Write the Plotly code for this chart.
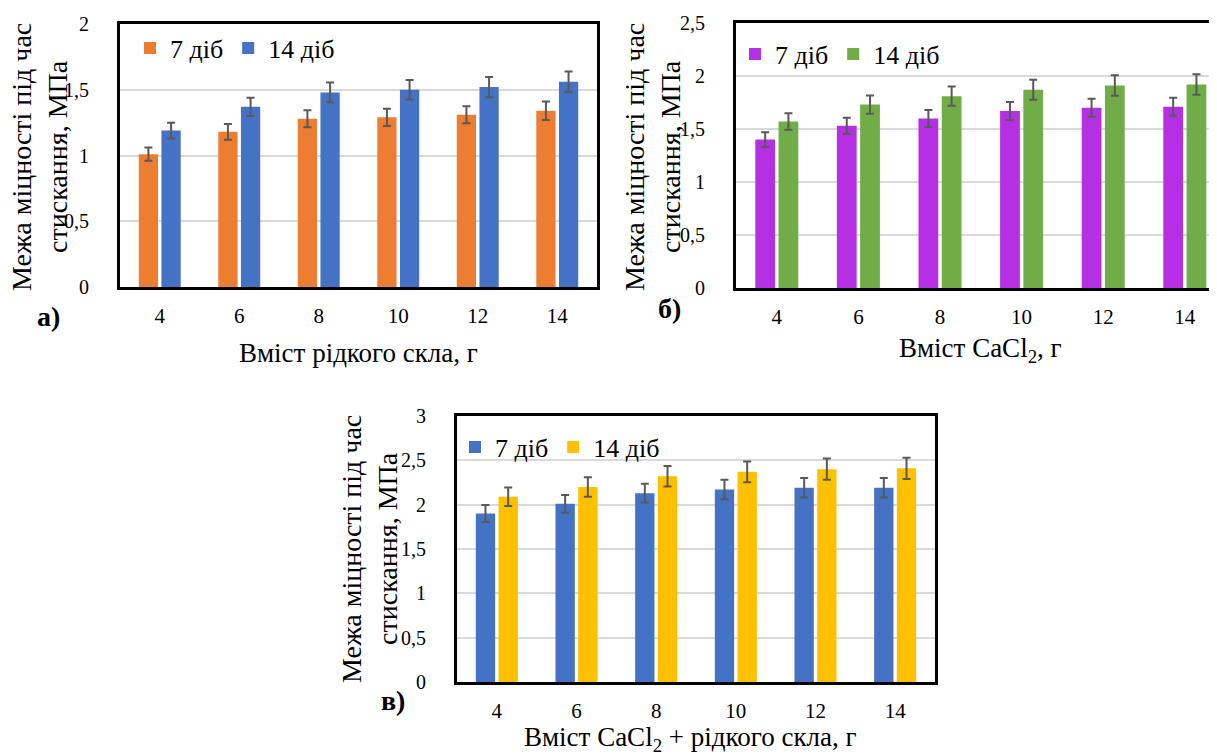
import plotly.graph_objects as go

# The page body has an 8px margin: the figure is sized so that it ends at the window edge.
OFF = 8
W, H = 1217 - OFF, 754 - OFF
FONT = "Liberation Serif, serif"

# ---------------- data ----------------
categories = ["4", "6", "8", "10", "12", "14"]
series_names = ["7 діб", "14 діб"]

# panel а) – рідке скло
a_7 = [1.01, 1.18, 1.28, 1.29, 1.31, 1.34]
a_7_err = [0.05, 0.06, 0.065, 0.065, 0.065, 0.07]
a_14 = [1.19, 1.37, 1.48, 1.50, 1.52, 1.56]
a_14_err = [0.06, 0.07, 0.075, 0.075, 0.077, 0.078]

# panel б) – CaCl2
b_7 = [1.40, 1.53, 1.60, 1.67, 1.70, 1.71]
b_7_err = [0.07, 0.077, 0.08, 0.085, 0.085, 0.085]
b_14 = [1.57, 1.73, 1.81, 1.87, 1.91, 1.92]
b_14_err = [0.078, 0.087, 0.09, 0.094, 0.096, 0.096]

# panel в) – CaCl2 + рідке скло
c_7 = [1.90, 2.01, 2.13, 2.17, 2.19, 2.19]
c_7_err = [0.095, 0.10, 0.105, 0.11, 0.11, 0.11]
c_14 = [2.09, 2.20, 2.32, 2.37, 2.40, 2.41]
c_14_err = [0.105, 0.11, 0.116, 0.118, 0.12, 0.12]

a_ticks = [0, 0.5, 1, 1.5, 2]
a_ticktext = ["0", "0,5", "1", "1,5", "2"]
b_ticks = [0, 0.5, 1, 1.5, 2, 2.5]
b_ticktext = ["0", "0,5", "1", "1,5", "2", "2,5"]
c_ticks = [0, 0.5, 1, 1.5, 2, 2.5, 3]
c_ticktext = ["0", "0,5", "1", "1,5", "2", "2,5", "3"]

y_title = "Межа міцності під час<br>стискання, МПа"
xa_title = "Вміст рідкого скла, г"
xb_title = "Вміст CaCl<sub>2</sub>, г"
xc_title = "Вміст CaCl<sub>2</sub> + рідкого скла, г"
panel_labels = ["а)", "б)", "в)"]

# colours
ORANGE, BLUE, PURPLE, GREEN, YELLOW = "#ED7D31", "#4472C4", "#B530E3", "#70AD47", "#FFC000"
ERR = "#595959"


def px_x(v):
    return (v - OFF) / W


def px_y(v):
    return 1 - (v - OFF) / H


fig = go.Figure()


def add_pair(xaxis, yaxis, legend, v1, e1, v2, e2, c1, c2):
    for name, vals, errs, col in ((series_names[0], v1, e1, c1), (series_names[1], v2, e2, c2)):
        fig.add_trace(go.Bar(
            x=categories, y=vals, name=name, marker_color=col, marker_line_width=0,
            error_y=dict(type="data", array=errs, color=ERR, thickness=2, width=4),
            xaxis=xaxis, yaxis=yaxis, legend=legend,
        ))


add_pair("x", "y", "legend", a_7, a_7_err, a_14, a_14_err, ORANGE, BLUE)
add_pair("x2", "y2", "legend2", b_7, b_7_err, b_14, b_14_err, PURPLE, GREEN)
add_pair("x3", "y3", "legend3", c_7, c_7_err, c_14, c_14_err, BLUE, YELLOW)

tickfont_x = dict(family=FONT, size=21, color="black")
tickfont_y = dict(family=FONT, size=20, color="black")


def xax(domain, anchor, rng):
    return dict(domain=domain, anchor=anchor, type="category", range=rng,
                showline=True, linecolor="black", linewidth=3, mirror=True,
                showgrid=False, ticks="", tickfont=tickfont_x, ticklabelstandoff=8,
                fixedrange=True, automargin=False)


def yax(domain, anchor, rng, tv, tt, mirror=True):
    return dict(domain=domain, anchor=anchor, range=rng, tickvals=tv, ticktext=tt,
                showline=True, linecolor="black", linewidth=3, mirror=mirror,
                showgrid=True, gridcolor="#D9D9D9", gridwidth=2, zeroline=False,
                ticks="", tickfont=tickfont_y, ticklabelstandoff=24, fixedrange=True,
                automargin=False)


# panel geometry (screen pixels -> paper)
a_dom_x = [px_x(120), px_x(597)]
a_dom_y = [px_y(287), px_y(24)]
b_dom_x = [px_x(736), 1.0]
b_dom_y = [px_y(288), px_y(23)]
c_dom_x = [px_x(457), px_x(935)]
c_dom_y = [px_y(682), px_y(416)]

b_catw = 81.6
b_range = [-0.5, -0.5 + (1217 - 736) / b_catw]

legend_font = dict(family=FONT, size=26, color="black")


def legend(x, y):
    return dict(x=x, y=y, xanchor="left", yanchor="middle", orientation="h",
                font=legend_font, bgcolor="rgba(0,0,0,0)", borderwidth=0,
                traceorder="normal", itemclick=False, itemdoubleclick=False)


fig.update_layout(
    width=W, height=H, margin=dict(l=0, r=0, t=0, b=0, pad=0, autoexpand=False),
    plot_bgcolor="white", paper_bgcolor="white",
    font=dict(family=FONT, color="black"),
    barmode="group", bargap=0.43, bargroupgap=0.15,
    xaxis=xax(a_dom_x, "y", [-0.5, 5.5]),
    yaxis=yax(a_dom_y, "x", [0, 2], a_ticks, a_ticktext),
    xaxis2=xax(b_dom_x, "y2", b_range),
    yaxis2=yax(b_dom_y, "x2", [0, 2.5], b_ticks, b_ticktext, mirror=False),
    xaxis3=xax(c_dom_x, "y3", [-0.5, 5.5]),
    yaxis3=yax(c_dom_y, "x3", [0, 3], c_ticks, c_ticktext),
    legend=legend(px_x(130), px_y(48)),
    legend2=legend(px_x(735), px_y(54)),
    legend3=legend(px_x(455), px_y(447)),
    showlegend=True,
)

ytitle_font = dict(family=FONT, size=28, color="black")
xtitle_font = dict(family=FONT, size=27, color="black")
label_font = dict(family=FONT, size=28, color="black")

annots = [
    # y titles
    dict(x=px_x(39), y=px_y(157), text=y_title, textangle=-90, font=ytitle_font),
    dict(x=px_x(652), y=px_y(157), text=y_title, textangle=-90, font=ytitle_font),
    dict(x=px_x(369), y=px_y(549), text=y_title, textangle=-90, font=ytitle_font),
    # x titles
    dict(x=px_x(358), y=px_y(353), text=xa_title, font=xtitle_font),
    dict(x=px_x(980), y=px_y(350), text=xb_title, font=xtitle_font),
    dict(x=px_x(690), y=px_y(739), text=xc_title, font=xtitle_font),
    # panel labels
    dict(x=px_x(48), y=px_y(316), text="<b>" + panel_labels[0] + "</b>", font=label_font),
    dict(x=px_x(669), y=px_y(309), text="<b>" + panel_labels[1] + "</b>", font=label_font),
    dict(x=px_x(393), y=px_y(700), text="<b>" + panel_labels[2] + "</b>", font=label_font),
]
for a in annots:
    a.update(xref="paper", yref="paper", showarrow=False, xanchor="center", yanchor="middle")
fig.update_layout(annotations=annots)

fig.write_html("out.html")
